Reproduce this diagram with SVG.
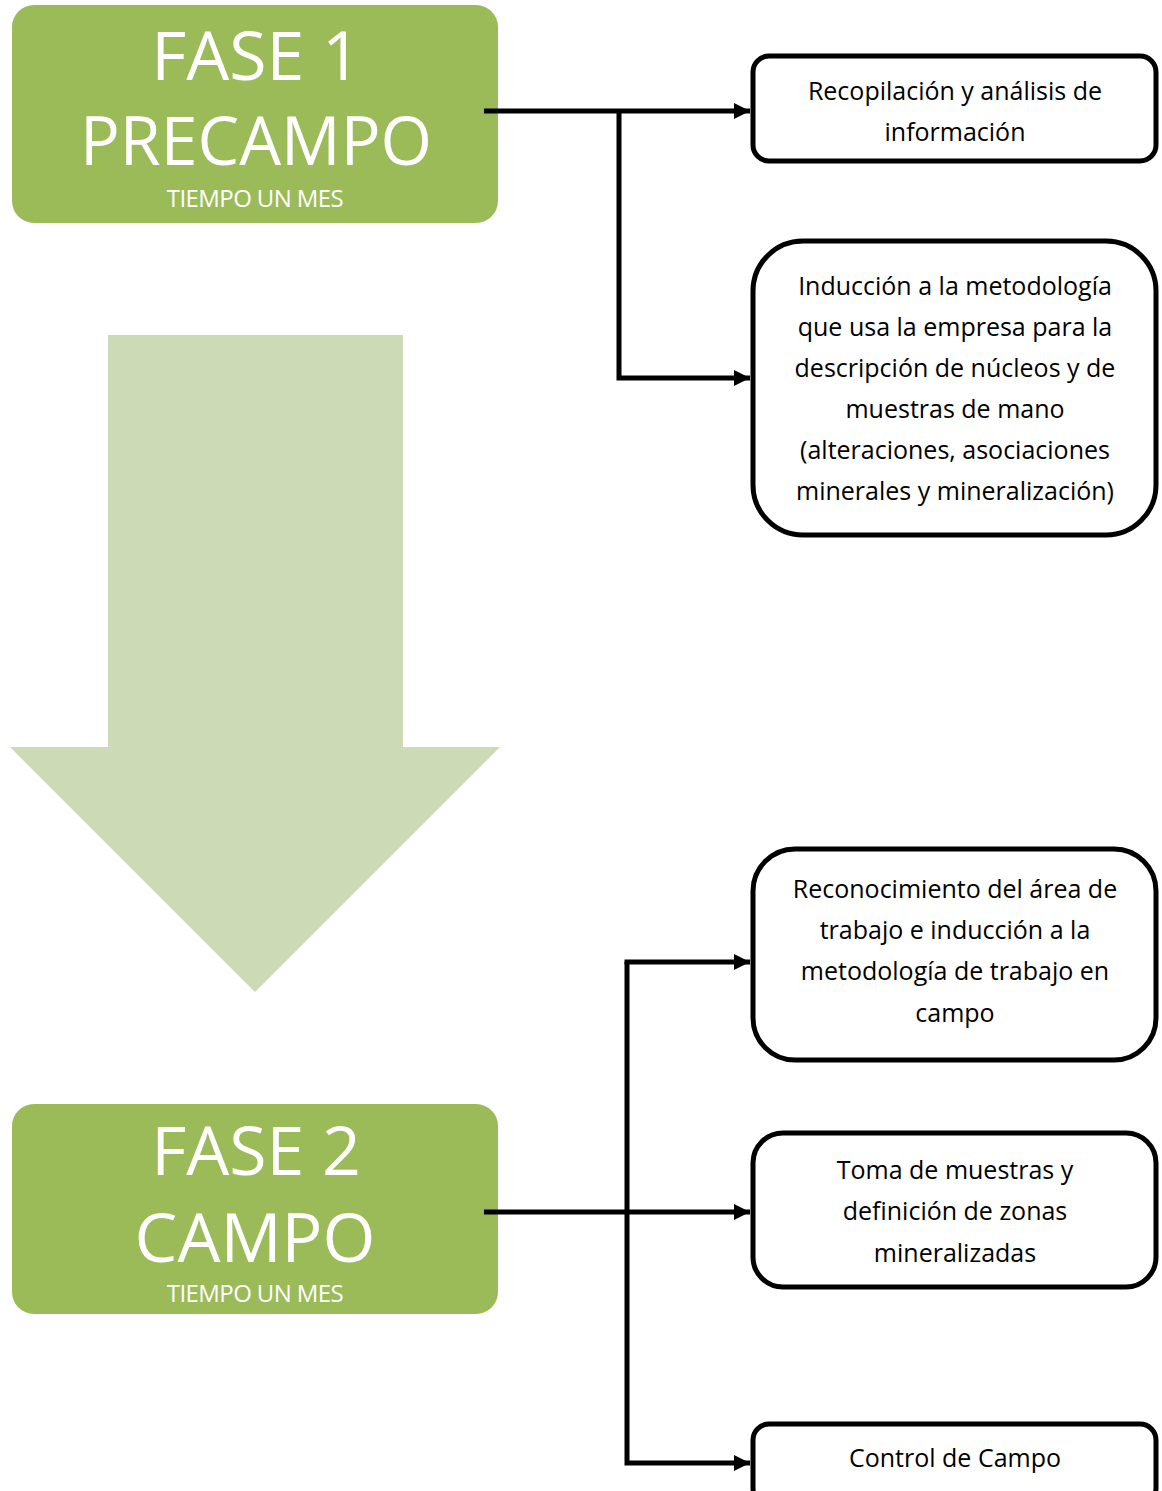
<svg xmlns="http://www.w3.org/2000/svg" width="1162" height="1491" viewBox="0 0 1162 1491">
<defs>
<style>
.phase{fill:#9BBB59}
.ptitle{font-family:"Open Sans","Liberation Sans",sans-serif;fill:#fff;text-anchor:middle;font-size:68px}
.psub{font-family:"Open Sans","Liberation Sans",sans-serif;fill:#fff;text-anchor:middle;font-size:24px;letter-spacing:-0.6px}
.box{fill:#fff;stroke:#000;stroke-width:5}
.txt{font-family:"Open Sans","Liberation Sans",sans-serif;fill:#000;text-anchor:middle;font-size:25px}
.conn{fill:none;stroke:#000;stroke-width:5}
</style>
<marker id="arr" viewBox="0 0 16 16" refX="16" refY="8" markerWidth="16" markerHeight="16" orient="auto" markerUnits="userSpaceOnUse">
<path d="M0,0 L16,8 L0,16 Z" fill="#000"/>
</marker>
</defs>
<rect width="1162" height="1491" fill="#fff"/>
<g id="big-arrow">
<path d="M108,335 L403,335 L403,747 L500,747 L255,992 L10,747 L108,747 Z" fill="#CCDBB6"/>
</g>
<g id="fase1">
<rect class="phase" x="12" y="5" width="486" height="218" rx="22"/>
<text class="ptitle" x="256" y="80">FASE 1</text>
<text class="ptitle" x="256" y="165" textLength="352" lengthAdjust="spacingAndGlyphs">PRECAMPO</text>
<text class="psub" x="255" y="207">TIEMPO UN MES</text>
</g>
<g id="fase2">
<rect class="phase" x="12" y="1104" width="486" height="210" rx="22"/>
<text class="ptitle" x="256" y="1175">FASE 2</text>
<text class="ptitle" x="255" y="1262">CAMPO</text>
<text class="psub" x="255" y="1302">TIEMPO UN MES</text>
</g>
<g id="connectors">
<path class="conn" d="M484,111 L750,111" marker-end="url(#arr)"/>
<path class="conn" d="M619,111 L619,378 L750,378" marker-end="url(#arr)"/>
<path class="conn" d="M484,1212 L750,1212" marker-end="url(#arr)"/>
<path class="conn" d="M627,962 L627,1463 L750,1463" marker-end="url(#arr)"/>
<path class="conn" d="M624.5,962 L750,962" marker-end="url(#arr)"/>
</g>
<g id="box1">
<rect class="box" x="753" y="56" width="403" height="105" rx="16"/>
<text class="txt" x="955" y="100">Recopilación y análisis de</text>
<text class="txt" x="955" y="141">información</text>
</g>
<g id="box2">
<rect class="box" x="753" y="241" width="403" height="294" rx="50"/>
<text class="txt" x="955" y="295">Inducción a la metodología</text>
<text class="txt" x="955" y="336">que usa la empresa para la</text>
<text class="txt" x="955" y="377">descripción de núcleos y de</text>
<text class="txt" x="955" y="418">muestras de mano</text>
<text class="txt" x="955" y="459">(alteraciones, asociaciones</text>
<text class="txt" x="955" y="500">minerales y mineralización)</text>
</g>
<g id="box3">
<rect class="box" x="753" y="849" width="403" height="211" rx="42"/>
<text class="txt" x="955" y="898">Reconocimiento del área de</text>
<text class="txt" x="955" y="939">trabajo e inducción a la</text>
<text class="txt" x="955" y="980">metodología de trabajo en</text>
<text class="txt" x="955" y="1022">campo</text>
</g>
<g id="box4">
<rect class="box" x="753" y="1133" width="403" height="154" rx="30"/>
<text class="txt" x="955" y="1179">Toma de muestras y</text>
<text class="txt" x="955" y="1220">definición de zonas</text>
<text class="txt" x="955" y="1262">mineralizadas</text>
</g>
<g id="box5">
<rect class="box" x="753" y="1424" width="403" height="80" rx="16"/>
<text class="txt" x="955" y="1467">Control de Campo</text>
</g>
</svg>
